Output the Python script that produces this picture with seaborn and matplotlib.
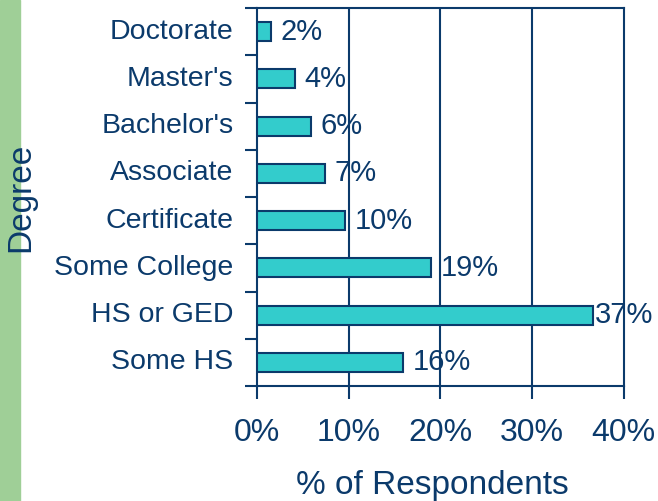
import numpy as np
import pandas as pd
import matplotlib.pyplot as plt
import seaborn as sns

# values
degrees = ["Doctorate", "Master's", "Bachelor's", "Associate", "Certificate",
           "Some College", "HS or GED", "Some HS"]
pct = [1.5, 4.1, 5.9, 7.4, 9.6, 19.0, 36.7, 15.9]
pct_labels = ["2%", "4%", "6%", "7%", "10%", "19%", "37%", "16%"]
x_ticks = [0, 10, 20, 30, 40]
x_ticklabels = ["0%", "10%", "20%", "30%", "40%"]

navy = "#0B3A6B"
teal = "#33CCCC"

df = pd.DataFrame({"Degree": degrees, "pct": pct})

sns.set_theme(style="white")
plt.rcParams["font.family"] = ["Liberation Sans", "DejaVu Sans"]

fig = plt.figure(figsize=(6.58, 5.01), dpi=100)
fig.patches.append(plt.Rectangle((0, 0), 20 / 658, 1, transform=fig.transFigure,
                                 color="#9FCF97", zorder=0))
ax = fig.add_axes([257 / 658, 1 - 386 / 501, (623.5 - 257) / 658, (386 - 8) / 501])

sns.barplot(data=df, x="pct", y="Degree", order=degrees, orient="h",
            color=teal, edgecolor=navy, linewidth=1.5, width=0.4,
            saturation=1, ax=ax, zorder=3)

ax.set_xlim(0, 40)
ax.set_ylim(len(degrees) - 0.5, -0.5)
ax.set_xticks(x_ticks)
ax.set_xticklabels(x_ticklabels, fontsize=23, color=navy)
ax.set_yticks(range(len(degrees)))
ax.set_yticklabels(degrees, fontsize=20.5, color=navy, va="center")
ax.set_yticks(np.arange(-0.5, len(degrees), 1), minor=True)
ax.tick_params(axis="y", which="major", length=0, pad=17)
ax.tick_params(axis="y", which="minor", length=9, width=1.5, color=navy, left=True)
ax.tick_params(axis="x", which="major", length=9, width=1.5, color=navy,
               bottom=True, pad=14)

ax.grid(False)
for x in x_ticks[1:-1]:
    ax.axvline(x, color=navy, lw=1.5, zorder=1)
for s in ax.spines.values():
    s.set_visible(True)
    s.set_color(navy)
    s.set_linewidth(1.5)

pads = [7, 7, 7, 7, 7, 7, 1.5, 7]
for bar, lab, p in zip(ax.patches, pct_labels, pads):
    ax.annotate(lab, (bar.get_x() + bar.get_width(), bar.get_y() + bar.get_height() / 2),
                xytext=(p, 0), textcoords="offset points", ha="left", va="center",
                fontsize=21, color=navy, zorder=4, annotation_clip=False)

ax.set_xlabel("% of Respondents", fontsize=24, color=navy)
ax.xaxis.set_label_coords(0.478, -0.222)
ax.set_ylabel("")
fig.text(21 / 658, 1 - 197 / 501, "Degree", rotation=90, ha="center", va="center",
         fontsize=24, color=navy)

fig.savefig("out.png", dpi=100)
